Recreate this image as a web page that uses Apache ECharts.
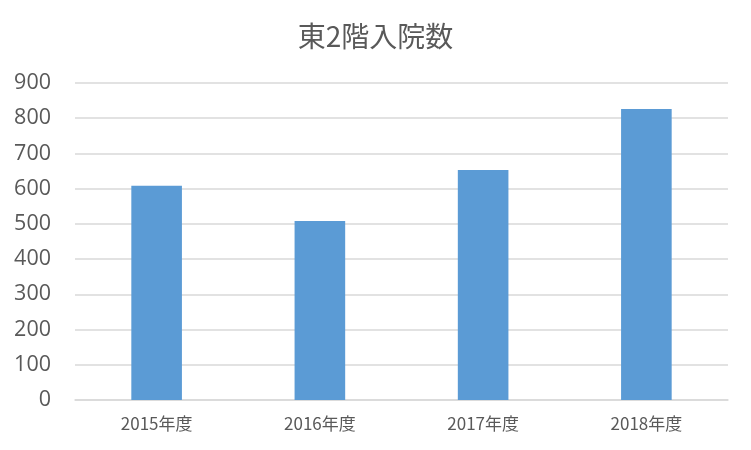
<!DOCTYPE html>
<html><head><meta charset="utf-8">
<script src="https://cdn.jsdelivr.net/npm/echarts@6/dist/echarts.min.js"></script>
<style>html,body{margin:0;padding:0;background:#fff}#c{width:751px;height:450px}</style>
</head><body><div id="c"></div>
<script>
const categories = ['2015年度','2016年度','2017年度','2018年度'];
const values = [608, 508, 653, 826];
const titleText = '東2階入院数';
const chart = echarts.init(document.getElementById('c'), null, {renderer:'canvas'});
chart.setOption({
  animation:false,
  backgroundColor:'#ffffff',
  title:{text:titleText,left:'center',top:17,textStyle:{fontFamily:'Noto Sans CJK JP',fontSize:28,fontWeight:'normal',color:'#595959'}},
  grid:{left:75,right:23,top:83,bottom:50},
  xAxis:{type:'category',data:categories,
    axisLine:{lineStyle:{color:'#d9d9d9',width:1.5}},axisTick:{show:false},
    axisLabel:{fontFamily:'Noto Sans CJK JP',fontSize:17,color:'#595959',margin:15}},
  yAxis:{type:'value',min:0,max:900,interval:100,
    axisLine:{show:false},axisTick:{show:false},
    splitLine:{lineStyle:{color:'#d9d9d9',width:1.5}},
    axisLabel:{fontFamily:'Open Sans',fontSize:21.5,color:'#595959',margin:24}},
  series:[{type:'bar',data:values,barWidth:'31%',itemStyle:{color:'#5b9bd5'}}]
});
</script></body></html>
